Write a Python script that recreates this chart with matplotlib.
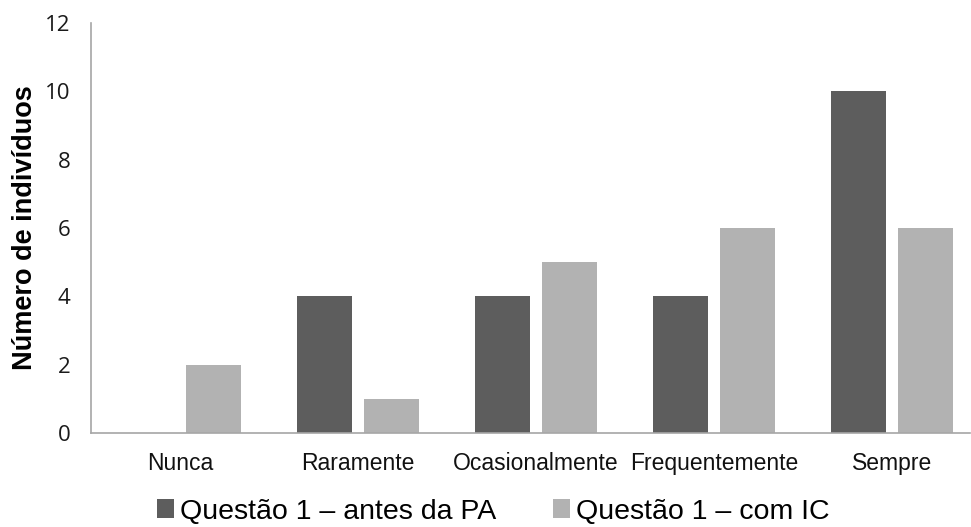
import matplotlib
matplotlib.use("Agg")
import matplotlib.pyplot as plt
import numpy as np
from matplotlib.patches import Patch

categories = ["Nunca", "Raramente", "Ocasionalmente", "Frequentemente", "Sempre"]
antes_pa = [0, 4, 4, 4, 10]
com_ic = [2, 1, 5, 6, 6]
series_names = ["Questão 1 – antes da PA", "Questão 1 – com IC"]
y_ticks = [0, 2, 4, 6, 8, 10, 12]

dark = "#5d5d5d"
light = "#b2b2b2"
axis_col = "#a6a6a6"

fig = plt.figure(figsize=(9.71, 5.27), dpi=100)
ax = fig.add_axes([91 / 971, 94 / 527, (970 - 91) / 971, 410 / 527])

x = np.arange(len(categories))
w = 0.31
off = 0.19
ax.bar(x - off, antes_pa, width=w, color=dark)
ax.bar(x + off, com_ic, width=w, color=light)

ax.set_xlim(-0.5, -0.5 + (970 - 91) / 178)
ax.set_ylim(0, 12)
ax.set_yticks(y_ticks)
ax.set_yticklabels([str(t) for t in y_ticks], family="Open Sans", fontsize=16, color="#1a1a1a")
ax.set_xticks(x)
ax.set_xticklabels(categories, family="Liberation Sans", fontsize=16.5, color="#111111")
ax.tick_params(axis="both", length=0)
ax.tick_params(axis="y", pad=15)
ax.tick_params(axis="x", pad=14)

for s in ["top", "right"]:
    ax.spines[s].set_visible(False)
for s in ["left", "bottom"]:
    ax.spines[s].set_color(axis_col)
    ax.spines[s].set_linewidth(1.2)

ax.set_ylabel("Número de indivíduos", family="Liberation Sans", fontweight="bold", fontsize=19.5)
ax.yaxis.set_label_coords(-(91 - 38) / 879, 0.5)

handles = [Patch(facecolor=dark), Patch(facecolor=light)]
fig.legend(handles, series_names, loc="lower center", bbox_to_anchor=(0.508, -0.044), ncol=2,
           frameon=False, prop={"family": "Liberation Sans", "size": 20.5},
           handlelength=0.6, handleheight=0.6, handletextpad=0.2, columnspacing=2.0)

fig.savefig("out.png", dpi=100)
